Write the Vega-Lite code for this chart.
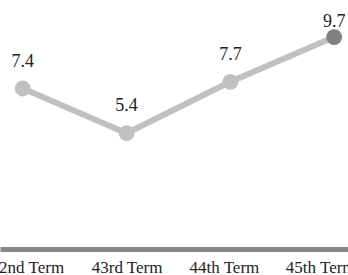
{
  "$schema": "https://vega.github.io/schema/vega-lite/v6.json",
  "width": 357,
  "height": 246,
  "autosize": {"type": "none"},
  "padding": {"top": 8, "left": 0, "right": 0, "bottom": 21},
  "background": "white",
  "config": {"view": {"stroke": null}, "font": "Times New Roman, Liberation Serif, serif"},
  "data": {"values": [
    {"term": "42nd Term", "value": 7.4, "latest": "no"},
    {"term": "43rd Term", "value": 5.4, "latest": "no"},
    {"term": "44th Term", "value": 7.7, "latest": "no"},
    {"term": "45th Term", "value": 9.7, "latest": "yes"}
  ]},
  "encoding": {
    "x": {"field": "term", "type": "ordinal", "sort": null,
      "scale": {"type": "point", "padding": 0.22},
      "axis": {"title": null, "ticks": false, "tickSize": 0, "grid": false,
        "domainColor": "#888888", "domainWidth": 5, "offset": -5,
        "labelAngle": 0, "labelFontSize": 17, "labelColor": "#222222",
        "labelPadding": 10, "labelFont": "Times New Roman, Liberation Serif, serif",
        "labelOffset": {"condition": [
          {"test": "datum.value === '42nd Term'", "value": 4},
          {"test": "datum.value === '44th Term'", "value": -6.5},
          {"test": "datum.value === '45th Term'", "value": -14}
        ], "value": 0}}},
    "y": {"field": "value", "type": "quantitative",
      "scale": {"domain": [0, 11], "nice": false, "zero": true}, "axis": null}
  },
  "layer": [
    {"mark": {"type": "line", "color": "#c0c0c0", "strokeWidth": 6}},
    {"mark": {"type": "circle", "size": 250, "opacity": 1},
      "encoding": {"color": {"field": "latest", "type": "nominal",
        "scale": {"domain": ["no", "yes"], "range": ["#c0c0c0", "#808080"]}, "legend": null}}},
    {"transform": [{"filter": "datum.latest === 'no'"}],
      "mark": {"type": "text", "baseline": "alphabetic", "dy": -22, "fontSize": 18, "color": "#222222", "font": "Times New Roman, Liberation Serif, serif"},
      "encoding": {"text": {"field": "value", "type": "quantitative", "format": ".1f"}}},
    {"transform": [{"filter": "datum.latest === 'yes'"}],
      "mark": {"type": "text", "baseline": "alphabetic", "dy": -10, "fontSize": 18, "color": "#222222", "font": "Times New Roman, Liberation Serif, serif"},
      "encoding": {"text": {"field": "value", "type": "quantitative", "format": ".1f"}}}
  ]
}
